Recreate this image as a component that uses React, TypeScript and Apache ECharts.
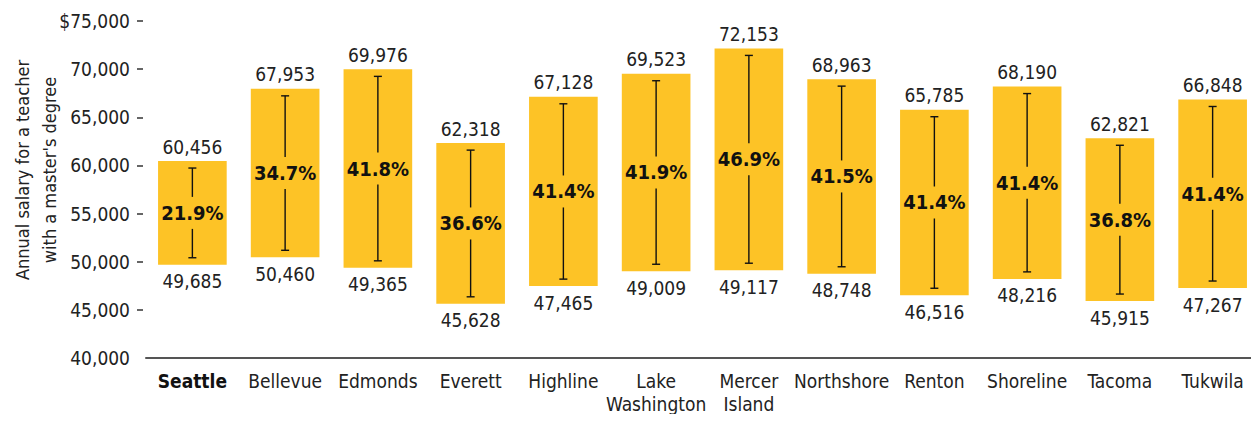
import React, { useEffect, useRef } from "react";
import * as echarts from "echarts";

const categories = ["Seattle", "Bellevue", "Edmonds", "Everett", "Highline", "Lake\nWashington", "Mercer\nIsland", "Northshore", "Renton", "Shoreline", "Tacoma", "Tukwila"];
const lowSalary = [49685, 50460, 49365, 45628, 47465, 49009, 49117, 48748, 46516, 48216, 45915, 47267];
const highSalary = [60456, 67953, 69976, 62318, 67128, 69523, 72153, 68963, 65785, 68190, 62821, 66848];
const pctIncrease = ["21.9%", "34.7%", "41.8%", "36.6%", "41.4%", "41.9%", "46.9%", "41.5%", "41.4%", "41.4%", "36.8%", "41.4%"];
const yTicks = [45000, 50000, 55000, 60000, 65000, 70000, 75000];
const axisName = "Annual salary for a teacher\nwith a master's degree";

const FONT = "'DejaVu Sans Condensed', 'Liberation Sans Narrow', sans-serif";
const BAR = "#FDC326";
const INK = "#222";
const FS = 19;

const fmt = (v: number) => v.toLocaleString("en-US");

export default function App() {
  const ref = useRef<HTMLDivElement>(null);
  useEffect(() => {
    if (!ref.current) return;
    const chart = echarts.init(ref.current, null, { renderer: "svg" });
    const data = categories.map((c, i) => [i, lowSalary[i], highSalary[i]]);
    chart.setOption({
      animation: false,
      textStyle: { fontFamily: FONT },
      grid: { left: 146, right: -4, top: 21, bottom: 64, containLabel: false },
      graphic: [
        {
          type: "text",
          x: 36,
          y: 170,
          rotation: Math.PI / 2,
          style: {
            text: axisName,
            font: `18px ${FONT}`,
            fill: INK,
            align: "center",
            verticalAlign: "middle",
            lineHeight: 27,
          },
        },
      ],
      xAxis: {
        type: "category",
        data: categories,
        axisLine: { lineStyle: { color: "#555", width: 2 } },
        axisTick: { show: false },
        axisLabel: {
          interval: 0,
          fontSize: FS,
          color: INK,
          margin: 11,
          lineHeight: 23,
          fontFamily: FONT,
          formatter: (v: string) => (v === "Seattle" ? "{b|Seattle}" : v),
          rich: { b: { fontSize: FS, fontWeight: "bold", color: "#111", fontFamily: FONT, lineHeight: 23 } },
        },
      },
      yAxis: {
        type: "value",
        min: 40000,
        max: 75000,
        interval: 5000,
        offset: 3,
        splitLine: { show: false },
        axisLine: { show: false },
        axisTick: { show: true, length: 6, customValues: yTicks, lineStyle: { color: "#333", width: 1.5 } },
        axisLabel: {
          fontSize: FS,
          color: INK,
          margin: 13,
          fontFamily: FONT,
          formatter: (v: number) => (v === 75000 ? "$" + fmt(v) : fmt(v)),
        },
      },
      series: [
        {
          type: "custom",
          data,
          encode: { x: 0, y: [1, 2] },
          renderItem: (params: any, api: any) => {
            const i = api.value(0);
            const lo = api.value(1);
            const hi = api.value(2);
            const pTop = api.coord([i, hi]);
            const pBot = api.coord([i, lo]);
            const bw = api.size([1, 0])[0] * 0.74;
            const cx = pTop[0];
            const top = pTop[1];
            const bot = pBot[1];
            const mid = (top + bot) / 2;
            const lt = top + 7;
            const lb = bot - 7;
            const gap = 16;
            const ls = { stroke: "#111", lineWidth: 1.4 };
            return {
              type: "group",
              children: [
                { type: "rect", shape: { x: cx - bw / 2, y: top, width: bw, height: bot - top }, style: { fill: BAR } },
                { type: "line", shape: { x1: cx, y1: lt, x2: cx, y2: mid - gap }, style: ls },
                { type: "line", shape: { x1: cx, y1: mid + gap, x2: cx, y2: lb }, style: ls },
                { type: "line", shape: { x1: cx - 4, y1: lt, x2: cx + 4, y2: lt }, style: ls },
                { type: "line", shape: { x1: cx - 4, y1: lb, x2: cx + 4, y2: lb }, style: ls },
                {
                  type: "text",
                  x: cx,
                  y: mid,
                  style: { text: pctIncrease[i], font: `bold 20px ${FONT}`, fill: "#111", align: "center", verticalAlign: "middle" },
                },
                {
                  type: "text",
                  x: cx,
                  y: top - 5,
                  style: { text: fmt(hi), font: `${FS}px ${FONT}`, fill: INK, align: "center", verticalAlign: "bottom" },
                },
                {
                  type: "text",
                  x: cx,
                  y: bot + 7,
                  style: { text: fmt(lo), font: `${FS}px ${FONT}`, fill: INK, align: "center", verticalAlign: "top" },
                },
              ],
            };
          },
        },
      ],
    });
    return () => chart.dispose();
  }, []);
  return <div ref={ref} style={{ width: 1259, height: 422, margin: -8 }} />;
}
